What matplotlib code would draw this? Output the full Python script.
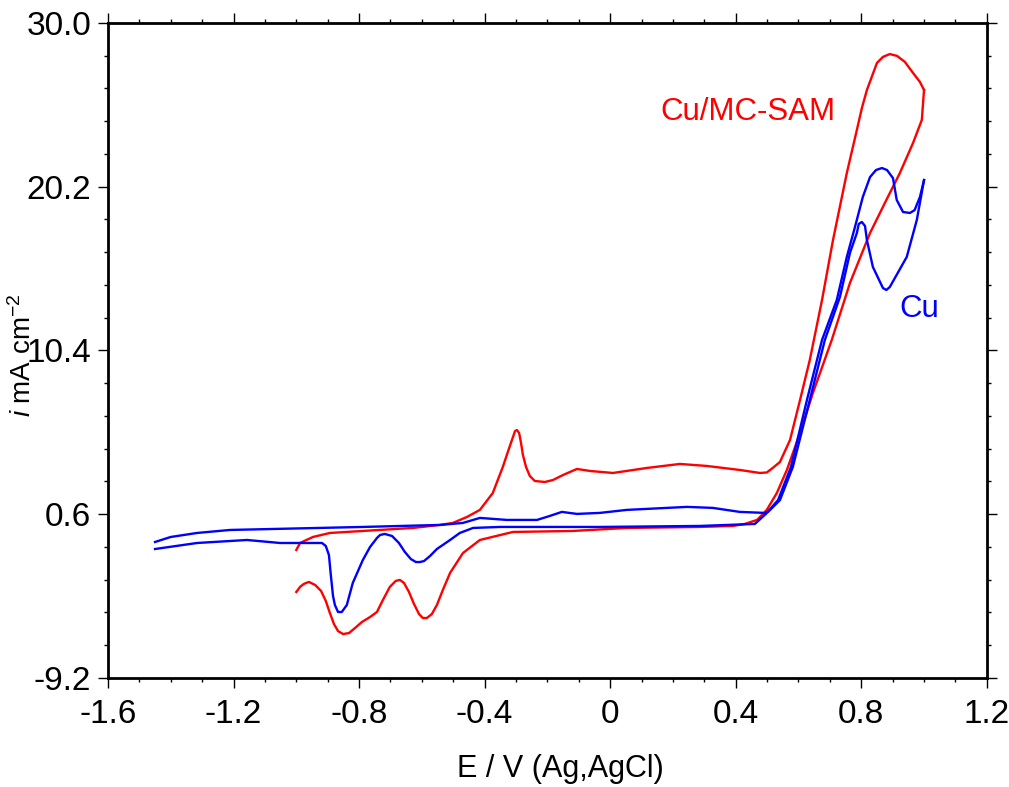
import numpy as np
import matplotlib
matplotlib.use("Agg")
import matplotlib.pyplot as plt
from matplotlib.ticker import MultipleLocator, FixedLocator, FixedFormatter

plt.rcParams['font.family'] = ['Liberation Sans', 'DejaVu Sans']
plt.rcParams['mathtext.fontset'] = 'custom'
plt.rcParams['mathtext.rm'] = 'Liberation Sans'
plt.rcParams['mathtext.it'] = 'Liberation Sans:italic'

# Cu electrode, forward (anodic) sweep
cu_fwd_e = [-1.45, -1.40, -1.316, -1.211, -0.788, -0.542, -0.469, -0.415, -0.329, -0.233,
            -0.192, -0.154, -0.106, -0.033, 0.053, 0.245, 0.327, 0.413, 0.493,
            0.503, 0.541, 0.582, 0.636, 0.684, 0.732, 0.764, 0.786, 0.792, 0.802, 0.812,
            0.818, 0.837, 0.869, 0.880, 0.891, 0.945, 0.977, 1.0]
cu_fwd_i = [-1.06, -0.76, -0.52, -0.34, -0.16, -0.04, 0.08, 0.38, 0.26, 0.26,
            0.50, 0.74, 0.62, 0.68, 0.86, 1.04, 0.98, 0.74, 0.68,
            0.74, 1.45, 3.43, 7.44, 11.03, 13.60, 16.24, 17.43, 17.97, 18.09, 17.85,
            17.01, 15.40, 14.14, 14.02, 14.20, 16.00, 18.21, 20.60]

# Cu electrode, reverse (cathodic) sweep
cu_rev_e = [1.0, 0.987, 0.970, 0.955, 0.933, 0.913, 0.901, 0.882, 0.866, 0.847, 0.828,
            0.805, 0.780, 0.754, 0.722, 0.675, 0.627, 0.576, 0.535, 0.496, 0.461, 0.286,
            -0.033, -0.351, -0.437, -0.479, -0.510, -0.552, -0.574, -0.593, -0.606,
            -0.619, -0.635, -0.654, -0.673, -0.695, -0.718, -0.733, -0.743, -0.765,
            -0.788, -0.820, -0.839, -0.855, -0.867, -0.877, -0.883, -0.890, -0.896,
            -0.906, -0.918, -1.052, -1.157, -1.316, -1.45]
cu_rev_i = [20.60, 19.59, 18.80, 18.63, 18.69, 19.41, 20.72, 21.20, 21.32, 21.20, 20.78,
            19.59, 17.79, 16.00, 13.42, 11.03, 7.44, 3.43, 1.45, 0.62, 0.02, -0.10,
            -0.16, -0.16, -0.22, -0.52, -0.94, -1.48, -1.90, -2.20, -2.26,
            -2.26, -2.08, -1.66, -1.12, -0.70, -0.58, -0.64, -0.82, -1.36,
            -2.14, -3.51, -4.83, -5.25, -5.25, -4.83, -4.29, -3.03, -1.84,
            -1.30, -1.12, -1.12, -0.94, -1.12, -1.48]

# Cu/MC-SAM electrode, forward (anodic) sweep
sam_fwd_e = [-1.0, -0.988, -0.947, -0.893, -0.788, -0.628, -0.542, -0.501, -0.456,
             -0.415, -0.374, -0.342, -0.326, -0.313, -0.303, -0.297, -0.290, -0.284,
             -0.278, -0.268, -0.256, -0.240, -0.208, -0.182, -0.150, -0.106, -0.064,
             0.009, 0.117, 0.222, 0.308, 0.413, 0.477, 0.499, 0.518, 0.541, 0.573,
             0.605, 0.636, 0.675, 0.710, 0.754, 0.786, 0.802, 0.818, 0.850, 0.869,
             0.891, 0.914, 0.939, 0.965, 0.987, 1.0]
sam_fwd_i = [-1.54, -1.12, -0.76, -0.52, -0.40, -0.22, -0.04, 0.08, 0.44,
             0.86, 1.87, 3.43, 4.33, 5.04, 5.58, 5.64, 5.46, 4.87,
             4.15, 3.43, 2.89, 2.59, 2.53, 2.65, 2.95, 3.31, 3.19,
             3.07, 3.37, 3.61, 3.49, 3.25, 3.07, 3.10, 3.37, 3.73, 5.04,
             7.44, 9.83, 13.42, 17.01, 21.02, 23.60, 24.91, 25.99, 27.61, 27.97,
             28.14, 28.03, 27.67, 27.01, 26.47, 25.99]

# Cu/MC-SAM electrode, reverse (cathodic) sweep
sam_rev_e = [1.0, 0.993, 0.965, 0.923, 0.880, 0.828, 0.764, 0.706, 0.646, 0.605,
             0.563, 0.531, 0.499, 0.468, 0.429, 0.391, 0.286, 0.053, -0.119, -0.310,
             -0.415, -0.469, -0.510, -0.533, -0.552, -0.568, -0.584, -0.597, -0.609,
             -0.625, -0.641, -0.657, -0.670, -0.683, -0.702, -0.724, -0.743, -0.765,
             -0.791, -0.813, -0.832, -0.851, -0.867, -0.880, -0.893, -0.906, -0.921,
             -0.940, -0.960, -0.976, -0.988, -1.0]
sam_rev_i = [25.99, 24.20, 22.82, 21.02, 19.41, 17.43, 14.44, 11.03, 7.86, 5.46,
             3.25, 1.87, 0.86, 0.26, 0.02, -0.10, -0.16, -0.22, -0.40, -0.46,
             -0.94, -1.72, -2.91, -3.93, -4.83, -5.37, -5.61, -5.61, -5.37,
             -4.77, -4.05, -3.51, -3.33, -3.39, -3.75, -4.53, -5.25, -5.55,
             -5.85, -6.21, -6.51, -6.57, -6.39, -5.97, -5.31, -4.59, -3.99,
             -3.63, -3.45, -3.57, -3.75, -4.05]

x_ticks = [-1.6, -1.2, -0.8, -0.4, 0.0, 0.4, 0.8, 1.2]
x_tick_labels = ['-1.6', '-1.2', '-0.8', '-0.4', '0', '0.4', '0.8', '1.2']
y_ticks = [-9.2, 0.6, 10.4, 20.2, 30.0]
y_tick_labels = ['-9.2', '0.6', '10.4', '20.2', '30.0']

red = '#ff0000'
blue = '#0000ff'

fig = plt.figure(figsize=(10.09, 7.87), dpi=100)
ax = fig.add_axes([0.107, 0.1385, 0.871, 0.8323])

ax.plot(sam_fwd_e, sam_fwd_i, color=red, lw=1.7, solid_joinstyle='round')
ax.plot(sam_rev_e, sam_rev_i, color=red, lw=1.7, solid_joinstyle='round')
ax.plot(cu_fwd_e, cu_fwd_i, color=blue, lw=1.7, solid_joinstyle='round')
ax.plot(cu_rev_e, cu_rev_i, color=blue, lw=1.7, solid_joinstyle='round')

ax.set_xlim(-1.6, 1.2)
ax.set_ylim(-9.2, 30.0)

ax.xaxis.set_major_locator(FixedLocator(x_ticks))
ax.xaxis.set_major_formatter(FixedFormatter(x_tick_labels))
ax.xaxis.set_minor_locator(MultipleLocator(0.1))
ax.yaxis.set_major_locator(FixedLocator(y_ticks))
ax.yaxis.set_major_formatter(FixedFormatter(y_tick_labels))
ax.yaxis.set_minor_locator(FixedLocator(list(np.arange(-9.2, 30.01, 1.96))))

ax.tick_params(which='both', direction='out', top=True, right=True, width=1.0, color='black')
ax.tick_params(which='major', length=7)
ax.tick_params(which='minor', length=3)
ax.tick_params(axis='y', which='major', pad=5)
ax.tick_params(axis='x', which='major', pad=8)
for lab in ax.get_xticklabels() + ax.get_yticklabels():
    lab.set_fontsize(24)

for sp in ax.spines.values():
    sp.set_linewidth(2.0)

ax.text(0.159, 24.2, 'Cu/MC-SAM', color=red, fontsize=22.5, ha='left', va='baseline')
ax.text(0.92, 12.41, 'Cu', color=blue, fontsize=22.5, ha='left', va='baseline')

fig.text(560 / 1009, 1 - 777 / 787, 'E / V (Ag,AgCl)', fontsize=22, ha='center', va='baseline')
fig.text(37 / 1009, 1 - 355 / 787, r'$\mathit{i}$ mA cm$^{\mathregular{-2}}$', fontsize=20,
         rotation=90, ha='right', va='center')

fig.savefig('out.png', dpi=100, facecolor='white')
plt.close('all')
